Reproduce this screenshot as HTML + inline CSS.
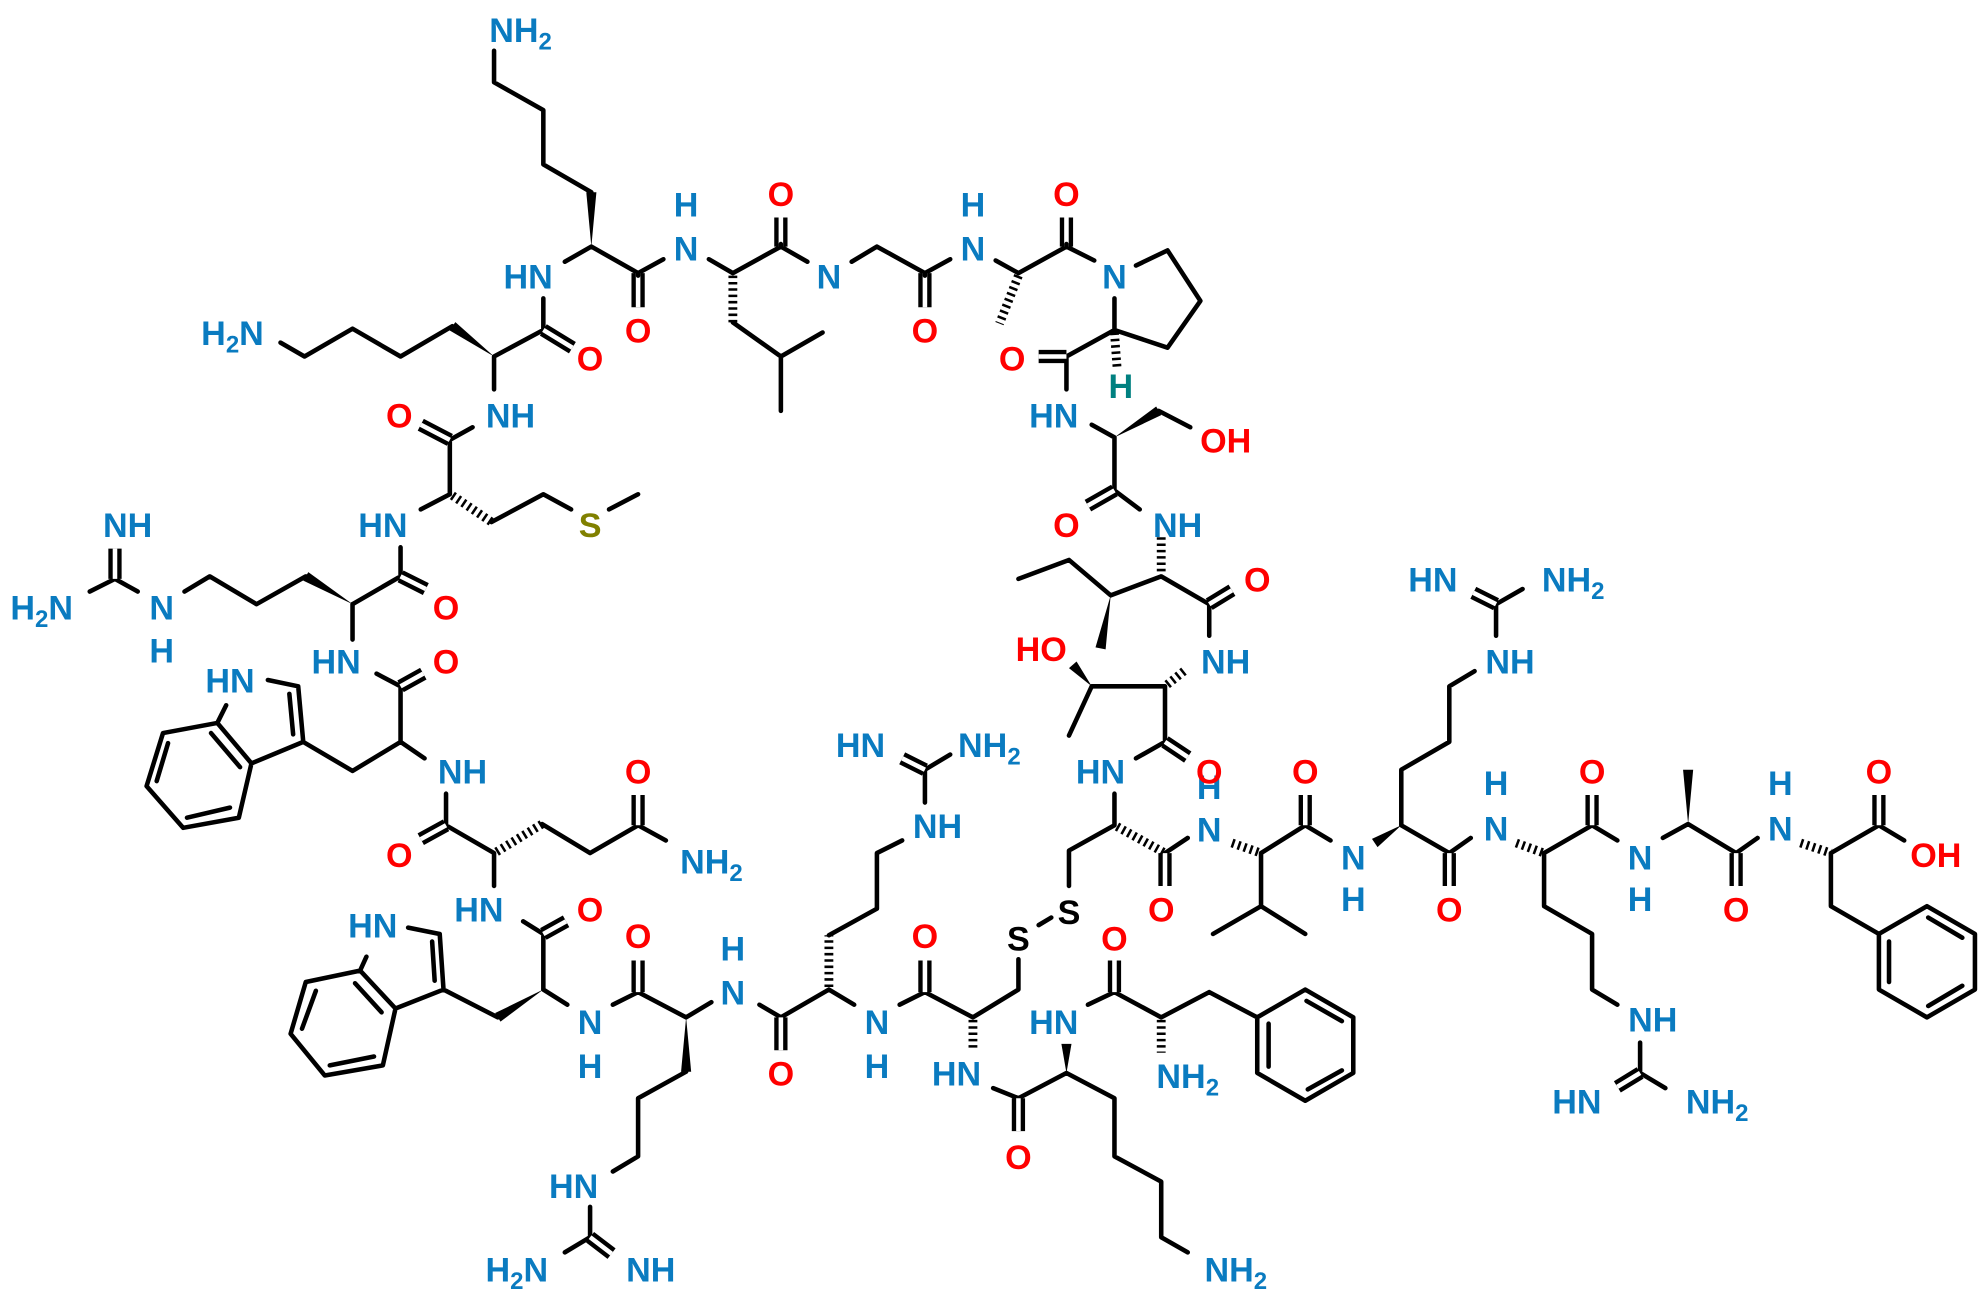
<!DOCTYPE html>
<html><head><meta charset="utf-8"><style>
html,body{margin:0;padding:0;background:#fff;}
svg{display:block}
.s{fill:none;stroke:#000;stroke-width:3.6;stroke-linejoin:round;stroke-linecap:round}
.d{stroke:#000;stroke-width:10.5}
.dw{stroke:#fff;stroke-width:3.6}
.h{stroke:#000;stroke-width:7;stroke-dasharray:2 3}
text{font-family:"Liberation Sans",Arial,sans-serif;font-size:27px;font-weight:bold;text-anchor:middle}
.b{fill:#0a7bc0}.r{fill:#ff0000}.o{fill:#808000}.k{fill:#000}.t{fill:#008080}
</style></head><body>
<svg width="1980" height="1293" viewBox="0 0 1567 1023" xmlns="http://www.w3.org/2000/svg">
<rect width="1567" height="1023" fill="#fff"/>
<path class="s" d="M391 40 L391 65 L430 87 L430 130 L468 152
M447 207 L468 195 L505 216 L525 205
M561 205 L580 216 L618 195 L639 207
M580 255 L618 282 L651 263 M618 282 L618 325
M674 207 L694 195 L732 216 L752 205
M788 206 L806 216 L844 195 L866 206
M899 210 L924 198 L950 238 L924 275 L882 261 L882 236
M882 261 L844 282 L844 308
M864 336 L882 346 L882 388 L902 403 M917 325 L942 338
M919 456 L957 478 L957 503 M919 456 L879 471 L846 443 L806 458
M864 543 L922 543 L922 587 L899 600 M864 543 L846 582
M882 628 L882 653 L846 673 L846 701
M822 732 L832 726
M806 759 L806 783 L770 805
M922 675 L940 663
M998 675 L998 717 L960 739 M998 717 L1033 739 M998 675 L1033 653 L1053 665
M1109 653 L1109 609 L1147 587 L1147 543 L1167 531 M1184 503 L1184 478 L1205 466
M1109 653 L1147 675 L1164 663
M1222 675 L1222 717 L1260 739 L1260 783 L1280 795 M1298 825 L1298 849 L1318 861
M1222 675 L1260 653 L1280 665
M1316 663 L1336 652 L1374 675 L1391 663
M1449 675 L1487 653 L1507 665 M1449 675 L1449 717 L1487 739
M1487 739 L1525 717 L1563 739 L1563 783 L1525 805 L1487 783 Z
M1495 745 L1495 777 M1526 726 L1553 742 M1553 780 L1526 796
M995 805 L1033 783 L1071 805 L1071 849 L1033 871 L995 849 Z
M1034 792 L1062 808 M1004 810 L1004 844 M1035 862 L1062 847
M861 795 L882 785 L919 805 L957 785 L995 805
M786 861 L806 869 L844 849 L882 869 L882 915 L919 935 L919 979 L940 991
M732 785 L770 805
M712 795 L732 785
M656 783 L676 795 M618 805 L656 783 M601 795 L618 805 M656 740 L694 719 L694 675 L714 665 M732 635 L732 609 L752 597
M543 805 L563 793 M505 785 L543 805 M485 795 L505 785 M543 848 L505 869 L505 915 L485 927 M467 955 L467 979 L447 991
M430 783 L449 795 M414 729 L430 739 L430 783 M394 805 L351 783
M351 783 L348 739 L323 734 M290 757 L285 768 L313 798 L351 783 M285 768 L242 777 L230 818 L257 851 L303 843 L313 798
M342 745 L344 776 M281 778 L302 801 M250 784 L239 814 M261 843 L296 836
M298 533 L317 543 L317 587 L279 610 L240 587 M317 587 L336 600
M212 538 L236 543 L240 587 L199 604 L172 572 L179 558 M172 572 L129 580 L116 622 L145 655 L189 647 L199 604
M229 549 L232 581 M167 580 L190 607 M133 588 L124 618 M148 647 L182 639
M353 628 L353 653 L391 675 L391 701 M429 652 L467 675 L505 653 L527 665
M374 338 L356 348 L356 391 L333 403 M389 413 L430 391 L452 403 M482 403 L505 391
M317 433 L317 456 L279 478 M242 456 L203 478 L166 456 L146 468 M109 468 L91 458 L71 468 M279 478 L279 506
M430 236 L430 261 L391 282 L391 308 M358 258 L317 282 L279 260 L241 282 L222 271"/>
<g>
<path class="d" d="M505 216 L505 243 M618 195 L618 172 M732 216 L732 243 M844 195 L844 172 M844 282 L822 282 M882 388 L861 400 M957 478 L975 467 M922 587 L940 599 M922 675 L922 701 M1033 653 L1033 629 M1147 675 L1147 701 M1184 478 L1166 469 M1260 653 L1260 629 M1298 849 L1280 860 M1374 675 L1374 701 M1487 653 L1487 629 M882 785 L882 760 M806 869 L806 895 M732 785 L732 760 M732 609 L714 600 M618 805 L618 831 M505 785 L505 760 M467 979 L484 992 M430 739 L448 729 M505 653 L505 629 M353 653 L333 664 M317 543 L335 533 M317 456 L337 466 M91 458 L91 434 M356 348 L333 336 M430 261 L453 275"/>
<path class="dw" d="M505 216 L505 243 M618 195 L618 172 M732 216 L732 243 M844 195 L844 172 M844 282 L822 282 M882 388 L861 400 M957 478 L975 467 M922 587 L940 599 M922 675 L922 701 M1033 653 L1033 629 M1147 675 L1147 701 M1184 478 L1166 469 M1260 653 L1260 629 M1298 849 L1280 860 M1374 675 L1374 701 M1487 653 L1487 629 M882 785 L882 760 M806 869 L806 895 M732 785 L732 760 M732 609 L714 600 M618 805 L618 831 M505 785 L505 760 M467 979 L484 992 M430 739 L448 729 M505 653 L505 629 M353 653 L333 664 M317 543 L335 533 M317 456 L337 466 M91 458 L91 434 M356 348 L333 336 M430 261 L453 275"/>
<path class="s" d="M505 216 L505 218 M618 195 L618 193 M732 216 L732 218 M844 195 L844 193"/>
</g>
<path class="h" d="M580 218 L580 255 M806 218 L791 256 M882 263 L884 290 M919 425 L919 454 M358 392 L389 413 M393 674 L429 652 M656 781 L656 740 M770 807 L770 831 M919 807 L919 833 M884 654 L922 675 M975 667 L998 675 M1200 667 L1222 675 M1425 667 L1449 675 M937 531 L922 543"/>
<g fill="#000">
<polygon points="468,195 464,152 472,152"/>
<polygon points="391,282 360.4,254.8 355.6,261.2"/>
<polygon points="279,478 244,452.6 240,459.4"/>
<polygon points="430,783 396.1,808.4 391.9,801.6"/>
<polygon points="543,805 539,848 547,848"/>
<polygon points="882,346 919,328.4 915,321.6"/>
<polygon points="879,471 875,513.8 867,512.2"/>
<polygon points="864,543 852,523.4 846,528.6"/>
<polygon points="1109,653 1090.2,670.3 1085.8,663.7"/>
<polygon points="1336,652 1332,609 1340,609"/>
<polygon points="844,849 840,826 848,826"/>
</g>
<g class="b">
<text x="412" y="33">NH<tspan font-size="19" dy="6">2</tspan></text>
<text x="418" y="228">HN</text>
<text x="543" y="206">N</text><text x="543" y="171">H</text>
<text x="656" y="228">N</text>
<text x="770" y="206">N</text><text x="770" y="171">H</text>
<text x="882" y="228">N</text>
<text x="184" y="273">H<tspan font-size="19" dy="6">2</tspan><tspan dy="-6">N</tspan></text>
<text x="404" y="338">NH</text>
<text x="303" y="425">HN</text>
<text x="101" y="425">NH</text>
<text x="128" y="490">N</text><text x="128" y="524">H</text>
<text x="33" y="490">H<tspan font-size="19" dy="6">2</tspan><tspan dy="-6">N</tspan></text>
<text x="266" y="533">HN</text>
<text x="182" y="548">HN</text>
<text x="366" y="620">NH</text>
<text x="563" y="691">NH<tspan font-size="19" dy="6">2</tspan></text>
<text x="379" y="729">HN</text>
<text x="295" y="742">HN</text>
<text x="467" y="818">N</text><text x="467" y="853">H</text>
<text x="454" y="948">HN</text>
<text x="515" y="1014">NH</text>
<text x="409" y="1014">H<tspan font-size="19" dy="6">2</tspan><tspan dy="-6">N</tspan></text>
<text x="580" y="795">N</text><text x="580" y="760">H</text>
<text x="742" y="663">NH</text>
<text x="681" y="599">HN</text>
<text x="783" y="599">NH<tspan font-size="19" dy="6">2</tspan></text>
<text x="694" y="818">N</text><text x="694" y="853">H</text>
<text x="757" y="859">HN</text>
<text x="834" y="338">HN</text>
<text x="932" y="425">NH</text>
<text x="970" y="533">NH</text>
<text x="871" y="620">HN</text>
<text x="957" y="666">N</text><text x="957" y="632">H</text>
<text x="1071" y="688">N</text><text x="1071" y="721">H</text>
<text x="1195" y="533">NH</text>
<text x="1134" y="468">HN</text>
<text x="1245" y="468">NH<tspan font-size="19" dy="6">2</tspan></text>
<text x="1184" y="665">N</text><text x="1184" y="629">H</text>
<text x="1308" y="816">NH</text>
<text x="1248" y="881">HN</text>
<text x="1359" y="881">NH<tspan font-size="19" dy="6">2</tspan></text>
<text x="1298" y="688">N</text><text x="1298" y="721">H</text>
<text x="1409" y="665">N</text><text x="1409" y="629">H</text>
<text x="834" y="818">HN</text>
<text x="940" y="861">NH<tspan font-size="19" dy="6">2</tspan></text>
<text x="978" y="1014">NH<tspan font-size="19" dy="6">2</tspan></text>
</g>
<g class="r">
<text x="505" y="271">O</text><text x="618" y="163">O</text><text x="732" y="271">O</text>
<text x="467" y="293">O</text><text x="316" y="338">O</text><text x="353" y="490">O</text>
<text x="844" y="163">O</text><text x="801" y="293">O</text><text x="844" y="425">O</text>
<text x="995" y="468">O</text><text x="353" y="533">O</text><text x="316" y="686">O</text>
<text x="505" y="620">O</text><text x="467" y="729">O</text><text x="505" y="750">O</text>
<text x="618" y="859">O</text><text x="732" y="750">O</text><text x="957" y="620">O</text>
<text x="919" y="729">O</text><text x="1033" y="620">O</text><text x="1147" y="729">O</text>
<text x="1260" y="620">O</text><text x="1374" y="729">O</text><text x="1487" y="620">O</text>
<text x="882" y="752">O</text><text x="806" y="925">O</text>
<text x="970" y="358">OH</text><text x="824" y="523">HO</text><text x="1532" y="686">OH</text>
</g>
<text class="o" x="467" y="425">S</text>
<text class="k" x="846" y="731">S</text>
<text class="k" x="806" y="752">S</text>
<text class="t" x="887" y="315">H</text>
</svg>
</body></html>
